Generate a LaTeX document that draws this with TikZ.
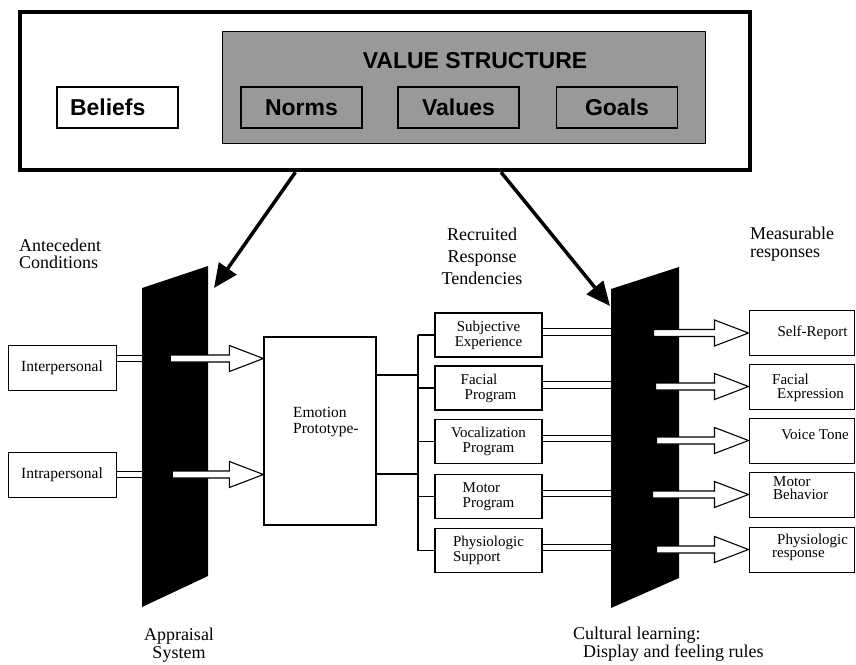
\documentclass[tikz,border=0pt]{standalone}
\usepackage{fontspec}
\setmainfont{Liberation Serif}
\setsansfont{Liberation Sans}
\usetikzlibrary{arrows.meta, calc}

\definecolor{vsgray}{HTML}{999999}

\tikzset{
  vbox/.style={draw, line width=1.2pt, minimum width=121pt, minimum height=41pt,
    inner sep=0pt, font=\sffamily\bfseries\fontsize{23}{26}\selectfont},
  inbox/.style={draw, line width=1pt, minimum width=108pt, minimum height=45pt,
    font=\fontsize{15.5}{15}\selectfont},
  tendbox/.style={draw, line width=1.2pt, minimum width=107pt, minimum height=44pt,
    inner sep=0pt, align=center, font=\fontsize{15}{15}\selectfont},
  respbox/.style={draw, line width=1pt, minimum width=105pt, minimum height=45pt},
  resptext/.style={inner sep=0pt, align=left, font=\fontsize{15}{13.5}\selectfont},
  heading/.style={inner sep=0pt, font=\fontsize{18}{17.5}\selectfont},
  twin/.style={double, double distance=5.8pt, line width=1pt, shorten >=-2pt},
  bigarrow/.style={line width=3.5pt, -{Triangle[length=24pt, width=21pt]}},
  pics/hollow arrow/.style={code={
    \draw[line width=1.1pt, fill=white] (0,0) -- (-34,-13) -- (-34,-3.5) -- (-#1,-3.5)
      -- (-#1,3.5) -- (-34,3.5) -- (-34,13) -- cycle;
  }},
}

\begin{document}
\begin{tikzpicture}[x=1pt, y=-1pt]
  \useasboundingbox (0,0) rectangle (856,664);

  % value structure
  \node[draw, line width=4.5pt, minimum width=730pt, minimum height=158pt] (ctx) at (385,91) {};
  \node[draw, line width=1pt, fill=vsgray, minimum width=483pt, minimum height=112pt] (vs) at (463.5,87) {};
  \node[font=\sffamily\bfseries\fontsize{23}{26}\selectfont, inner sep=0pt] (vstitle) at (475,60.8) {VALUE STRUCTURE};
  \node[vbox, align=left, text width=95pt] (beliefs) at (117.5,107.5) {Beliefs};
  \node[vbox] (norms) at (301.5,107.5) {Norms};
  \node[vbox] (values) at (458.5,107.5) {Values};
  \node[vbox] (goals) at (617,107.5) {Goals};

  % antecedents and prototype
  \node[heading, align=left, anchor=west] (antec) at (19,253.8) {Antecedent\\Conditions};
  \node[inbox] (inter) at (62,367.5) {Interpersonal};
  \node[inbox] (intra) at (62,474.5) {Intrapersonal};
  \node[draw, line width=1.2pt, minimum width=112pt, minimum height=188pt] (proto) at (320,431) {};
  \node[inner sep=0pt, align=left, anchor=west, font=\fontsize{15.5}{15.5}\selectfont] (protolbl)
    at (293,422) {Emotion\\Prototype-};
  \node[heading, align=center] (appr) at (179,645) {Appraisal\\System};

  % response tendencies
  \node[heading, align=center, font=\fontsize{18}{22}\selectfont] (recr) at (482,256.7)
    {Recruited\\Response\\Tendencies};
  \node[tendbox] (subj) at (488.5,335) {Subjective\\Experience};
  \node[tendbox, align=left] (fprog) at (488.5,388) {Facial\\\hspace*{4pt}Program};
  \node[tendbox] (voc) at (488.5,441.5) {Vocalization\\Program};
  \node[tendbox, align=left] (mprog) at (488.5,496.5) {Motor\\Program};
  \node[tendbox, align=left] (phys) at (488.5,550.5) {Physiologic\\Support};

  % measurable responses
  \node[heading, align=left, anchor=west] (meas) at (750,244.3) {Measurable\\responses};
  \node[respbox] (sr) at (801.5,333) {};
  \node[respbox] (fe) at (801.5,386.5) {};
  \node[respbox] (vt) at (801.5,440.5) {};
  \node[respbox] (mb) at (801.5,494.5) {};
  \node[respbox] (pr) at (801.5,549.5) {};
  \node[resptext] (srlbl) at (812.5,332.5) {Self-Report};
  \node[resptext, anchor=west] (felbl) at (772,388) {Facial\\\hspace*{5pt}Expression};
  \node[resptext] (vtlbl) at (815,435) {Voice Tone};
  \node[resptext, anchor=west] (mblbl) at (773,488) {Motor\\Behavior};
  \node[resptext, anchor=west] (prlbl) at (772,547.5) {\hspace*{5pt}Physiologic\\response};
  \node[heading, align=left, anchor=west] (cult) at (573,644)
    {Cultural learning:\\\hspace*{10pt}Display and feeling rules};

  \coordinate (lpanel) at (142,288);
  \coordinate (rpanel) at (611,289);
  \coordinate (bus) at (418,335);
  \coordinate (apTip) at (214,288);
  \coordinate (clTip) at (610,306);
  \coordinate (pa) at ([yshift=56pt]proto.east);
  \coordinate (pb) at ([yshift=-43pt]proto.east);
  \coordinate (ia) at ([yshift=9pt]inter.east);

  % connectors
  \draw[twin] (ia) -- (ia -| lpanel);
  \draw[twin] (intra.east) -- (intra.east -| lpanel);
  \draw[line width=1.2pt] (pa) -- (pa -| bus);
  \draw[line width=1.2pt] (pb) -- (pb -| bus);
  \draw[line width=1.2pt] (bus) -- (bus |- phys);
  \foreach \n in {subj,fprog,voc,mprog,phys}
    \draw[line width=1.2pt] (bus |- \n) -- (\n.west);
  \foreach \n in {subj,fprog,voc,mprog,phys}
    \draw[twin, transform canvas={yshift=3pt}] (\n.east) -- (\n.east -| rpanel);

  % appraisal and cultural panels
  \fill (lpanel) -- (208,266) -- (208,576) -- (142,607) -- cycle;
  \fill (rpanel) -- (679,267) -- (679,578) -- (611,608) -- cycle;

  \pic at (ia -| proto.west) {hollow arrow=93};
  \pic at (intra.east -| proto.west) {hollow arrow=91};
  \foreach \n/\l in {sr/95, fe/93, vt/92, mb/96, pr/92}
    \pic at (\n.west) {hollow arrow=\l};

  \draw[bigarrow] ($(ctx.south west)!0.378!(ctx.south east)$) -- (apTip);
  \draw[bigarrow] ($(ctx.south west)!0.658!(ctx.south east)$) -- (clTip);
\end{tikzpicture}
\end{document}
